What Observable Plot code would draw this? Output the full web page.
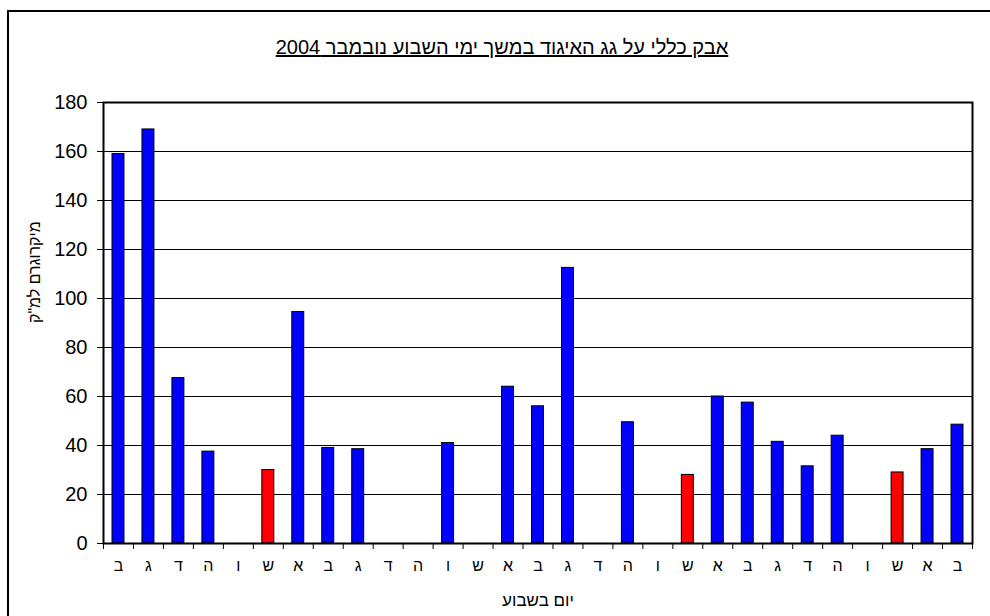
<!DOCTYPE html>
<html>
<head>
<meta charset="utf-8">
<script src="https://cdn.jsdelivr.net/npm/d3@7"></script>
<script src="https://cdn.jsdelivr.net/npm/@observablehq/plot@0.6"></script>
<style>
  body { margin:0; width:990px; height:616px; overflow:hidden; position:relative; background:#fff;
         font-family:"Liberation Sans", Arial, sans-serif; }
  #frame { position:absolute; left:7px; top:10px; width:1010px; height:700px; border:2px solid #000;
           z-index:5; pointer-events:none; background:transparent; }
  #title { position:absolute; top:36px; left:14px; width:976px; text-align:center; font-size:20px;
           text-decoration:underline; direction:rtl; color:#000; }
  #chart { position:absolute; top:80px; left:0; }
</style>
</head>
<body>
<div id="frame"></div>
<div id="title"></div>
<div id="chart"></div>
<script>
const titleText = "אבק כללי על גג האיגוד במשך ימי השבוע נובמבר 2004";
const yLabel = "מיקרוגרם למ\"ק";
const xLabel = "יום בשבוע";
const days = ["ב","ג","ד","ה","ו","ש","א","ב","ג","ד","ה","ו","ש","א","ב","ג","ד","ה","ו","ש","א","ב","ג","ד","ה","ו","ש","א","ב"];
const values = [159,169,67.5,37.5,null,30,94.5,39,38.5,null,null,41,null,64,56,112.5,null,49.5,null,28,60,57.5,41.5,31.5,44,null,29,38.5,48.5];
const yTicks = [0,20,40,60,80,100,120,140,160,180];

document.getElementById("title").textContent = titleText;

const data = days.map((d, i) => ({i, day: d, v: values[i]})).filter(d => d.v != null);
const n = days.length;

const chart = Plot.plot({
  width: 990,
  height: 536,
  marginTop: 22,
  marginBottom: 73,
  marginLeft: 103,
  marginRight: 18,
  style: {fontFamily: "'Liberation Sans', Arial, sans-serif", color: "#000", background: "transparent"},
  x: {type: "linear", domain: [0, n]},
  y: {domain: [0, 180]},
  marks: [
    Plot.gridY(yTicks.filter(t => t > 0 && t < 180), {stroke: "#000", strokeOpacity: 1, strokeWidth: 1}),
    Plot.rectY(data, {
      x1: d => d.i, x2: d => d.i + 1, y1: 0, y2: "v",
      insetLeft: 9, insetRight: 9,
      fill: d => d.day === "ש" ? "#ff0000" : "#0000ff",
      stroke: "#000", strokeWidth: 1
    }),
    Plot.axisY(yTicks, {tickSize: 6, tickPadding: 10, fontSize: 20, stroke: "#000",
      label: null}),
    Plot.axisX(d3.range(n + 1), {tickSize: 6, tickFormat: () => "", stroke: "#000", label: null}),
    Plot.axisX(d3.range(n).map(i => i + 0.5), {tickSize: 0, tickPadding: 16, fontSize: 16,
      tickFormat: t => days[Math.floor(t)], label: null}),
    Plot.text([yLabel], {frameAnchor: "left", dx: -69, rotate: -90, fontSize: 16, fill: "#000"}),
    Plot.text([xLabel], {frameAnchor: "bottom", dy: 62, fontSize: 17, fill: "#000"}),
    Plot.frame({stroke: "#000", strokeWidth: 2})
  ]
});
document.getElementById("chart").appendChild(chart);
</script>
</body>
</html>
